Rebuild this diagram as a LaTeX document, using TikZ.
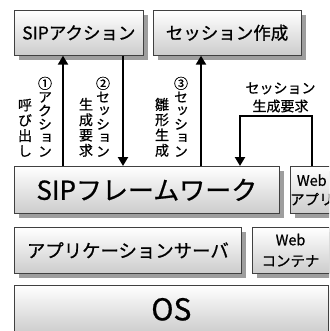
\documentclass[tikz,border=0pt]{standalone}
\usepackage{fontspec}
\setmainfont{Noto Sans CJK JP}[FakeBold=0.7]
\newfontfamily\tatefont[RawFeature=+vert, FakeBold=0.7]{Noto Sans CJK JP}
\newcommand\tatesize[1]{\tatefont\fontsize{14}{#1}\selectfont\lineskiplimit=-8pt\relax}
\usepackage{tikz}
\usetikzlibrary{arrows.meta, positioning, shadows}

\begin{document}
\begin{tikzpicture}[
    x=1pt, y=-1pt,
    layer/.style={draw=black!75, line width=0.7pt, top color=white, bottom color=black!20, general shadow={fill=black!38, shadow xshift=5pt, shadow yshift=-5pt}, inner sep=0pt, align=center},
    tate/.style={font=\tatesize{15.3}, align=center, anchor=south, inner sep=0pt},
    tatek/.style={tate, font=\tatesize{13.6}},
    flow/.style={line width=2.2pt, -{Triangle[width=10pt, length=9pt]}},
    ]
  \useasboundingbox (0,0) rectangle (329,331);
  \clip (0,0) rectangle (329,331);
  \node[layer, anchor=north west, minimum width=129pt, minimum height=45pt, font=\fontsize{17.5}{21}\selectfont] (sipact) at (14,10) {SIPアクション};
  \node[layer, right=9pt of sipact, minimum width=148pt, minimum height=45pt, font=\fontsize{17.5}{21}\selectfont] (sesmk) {セッション作成};
  \node[layer, anchor=north west, minimum width=265pt, minimum height=47pt, font=\fontsize{26}{30}\selectfont] (sipfw) at (14,166) {SIPフレームワーク};
  \node[layer, right=10pt of sipfw, minimum width=42pt, minimum height=47pt, font=\fontsize{14.5}{19}\selectfont] (webapp) {Web\\アプリ};
  \node[layer, anchor=north west, minimum width=227pt, minimum height=46pt, font=\fontsize{18.4}{22}\selectfont] (appsv) at (14,227) {アプリケーションサーバ};
  \node[layer, right=10pt of appsv, minimum width=77pt, minimum height=46pt, font=\fontsize{14.5}{21}\selectfont] (webcon) {Web\\コンテナ};
  \node[layer, anchor=north west, minimum width=314pt, minimum height=48pt, font=\fontsize{30}{34}\selectfont] (os) at (14,285) {OS};
  \coordinate (c1) at (63,0);
  \coordinate (c2) at (123,0);
  \coordinate (c3) at (201,0);
  \coordinate (c4) at (240,116);
  \draw[flow] (c1 |- sipfw.north) -- (c1 |- sipact.south);
  \draw[flow] (c2 |- sipact.south) -- (c2 |- sipfw.north);
  \draw[flow] (c3 |- sipfw.north) -- (c3 |- sesmk.south);
  \draw[flow] (webapp.north) |- (c4) -- (c4 |- sipfw.north);
  \node[tatek] (call1) at (45,157) {①\\ア\\ク\\シ\\ョ\\ン};
  \node[tate] (call2) at (25,157) {呼\\び\\出\\し};
  \node[tatek] (req1) at (103,157) {②\\セ\\ッ\\シ\\ョ\\ン};
  \node[tate] (req2) at (86,157) {生\\成\\要\\求};
  \node[tatek] (gen1) at (181,157) {③\\セ\\ッ\\シ\\ョ\\ン};
  \node[tate] (gen2) at (162,157) {雛\\形\\生\\成};
  \node[font=\fontsize{14}{18}\selectfont, align=center] (req3) at (280.5,97.5) {セッション\\生成要求};
\end{tikzpicture}
\end{document}
